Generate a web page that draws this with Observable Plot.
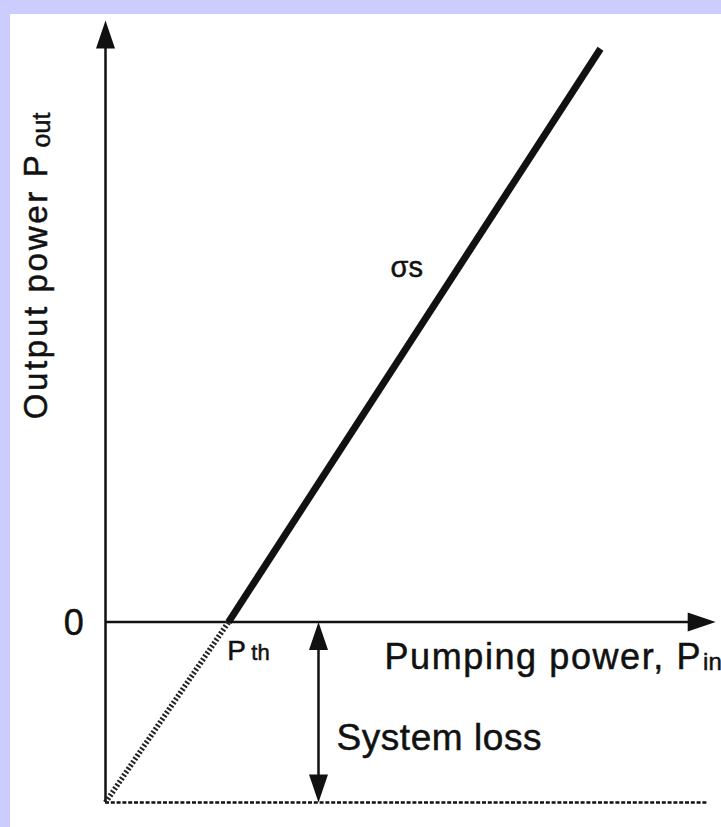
<!DOCTYPE html>
<html><head><meta charset="utf-8">
<script src="https://cdn.jsdelivr.net/npm/d3@7"></script>
<script src="https://cdn.jsdelivr.net/npm/@observablehq/plot@0.6"></script>
<style>
html,body{margin:0;padding:0;background:#ccccff;overflow:hidden;}
#chart{position:absolute;left:10px;top:14px;width:711px;height:813px;background:#fff;overflow:hidden;}
</style></head><body><div id="chart"></div>
<script>
// ---- data (arbitrary units: pumping power x, output power y) ----
const thresholdPower = 20.5;          // P_th
const outputLine = [{x: 20.5, y: 0}, {x: 82.5, y: 95.3}];   // lasing slope σs
const lossLine   = [{x: 0, y: -30}, {x: 20.5, y: 0}];       // extrapolated (dotted)
const systemLoss = -30;
const axisXEnd = 101.7;
const axisYEnd = 100;
const lossArrowX = 35.5;
const lossBaseEnd = 100.5;

const arrowHeads = [
  {x: 0, y: axisYEnd, rot: 0},
  {x: axisXEnd, y: 0, rot: 90},
  {x: lossArrowX, y: 0, rot: 0},
  {x: lossArrowX, y: systemLoss, rot: 180}
];

// text labels
const zeroLabel   = [{text: "0", x: -5.3, y: -0.2}];
const pthMain     = [{text: "P", x: 20.3, y: -6.3}];
const pthSub      = [{text: "th", x: 24.3, y: -6.3}];
const sigmaLabel  = [{text: "σs", x: 47.5, y: 57.4}];
const xLabelMain  = [{text: "Pumping power, P", x: 46.5, y: -7.8}];
const xLabelSub   = [{text: "in", x: 99.6, y: -7.9}];
const lossLabel   = [{text: "System loss", x: 38.5, y: -21.3}];
const yLabelMain  = [{text: "Output power P", x: -9.7, y: 33.7}];
const yLabelSub   = [{text: "out", x: -9.3, y: 78.9}];

const ink = "#111";
const font = "Liberation Sans, Arial, Helvetica, sans-serif";

const arrowSymbol = {
  draw(ctx) {
    ctx.moveTo(0, 0);
    ctx.lineTo(9.5, 28);
    ctx.lineTo(-9.5, 28);
    ctx.closePath();
  }
};

const txt = (data, size, extra = {}) => Plot.text(data, {
  x: "x", y: "y", text: "text", fontSize: size, fontFamily: font,
  fill: ink, stroke: ink, strokeWidth: 0.5,
  textAnchor: "start", lineAnchor: "bottom", ...extra
});

const chart = Plot.plot({
  width: 711,
  height: 813,
  margin: 0,
  x: {domain: [0, 100], range: [95, 695], axis: null},
  y: {domain: [-30, 100], range: [788, 6], axis: null},
  marks: [
    Plot.ruleX([0], {y1: systemLoss, y2: axisYEnd - 3, stroke: ink, strokeWidth: 2.5}),
    Plot.ruleY([0], {x1: 0, x2: axisXEnd - 3, stroke: ink, strokeWidth: 2.5}),
    Plot.ruleY([systemLoss], {x1: 0, x2: lossBaseEnd, stroke: ink, strokeWidth: 2.5, strokeDasharray: "4,1.8"}),
    Plot.ruleX([lossArrowX], {y1: systemLoss + 3, y2: -3, stroke: ink, strokeWidth: 2.5}),
    Plot.line(lossLine, {x: "x", y: "y", stroke: "#222", strokeWidth: 5.5, strokeDasharray: "2,2", strokeLinecap: "butt"}),
    Plot.line(outputLine, {x: "x", y: "y", stroke: ink, strokeWidth: 7, strokeLinecap: "butt"}),
    Plot.dot(arrowHeads, {x: "x", y: "y", rotate: "rot", symbol: arrowSymbol, r: 1, fill: ink, stroke: "none"}),
    txt(zeroLabel, 36, {textAnchor: "middle", lineAnchor: "middle"}),
    txt(pthMain, 28),
    txt(pthSub, 22),
    txt(sigmaLabel, 29),
    txt(xLabelMain, 36),
    txt(xLabelSub, 24),
    txt(lossLabel, 37),
    txt(yLabelMain, 33, {rotate: -90}),
    txt(yLabelSub, 25, {rotate: -90})
  ]
});
document.getElementById("chart").appendChild(chart);
const fit = (label, len) => d3.select(chart).selectAll("text")
  .filter(function() { return this.textContent === label; })
  .attr("textLength", len).attr("lengthAdjust", "spacing");
fit(xLabelMain[0].text, 316);
fit(lossLabel[0].text, 205);
fit(yLabelMain[0].text, 264);
</script>
</body></html>
